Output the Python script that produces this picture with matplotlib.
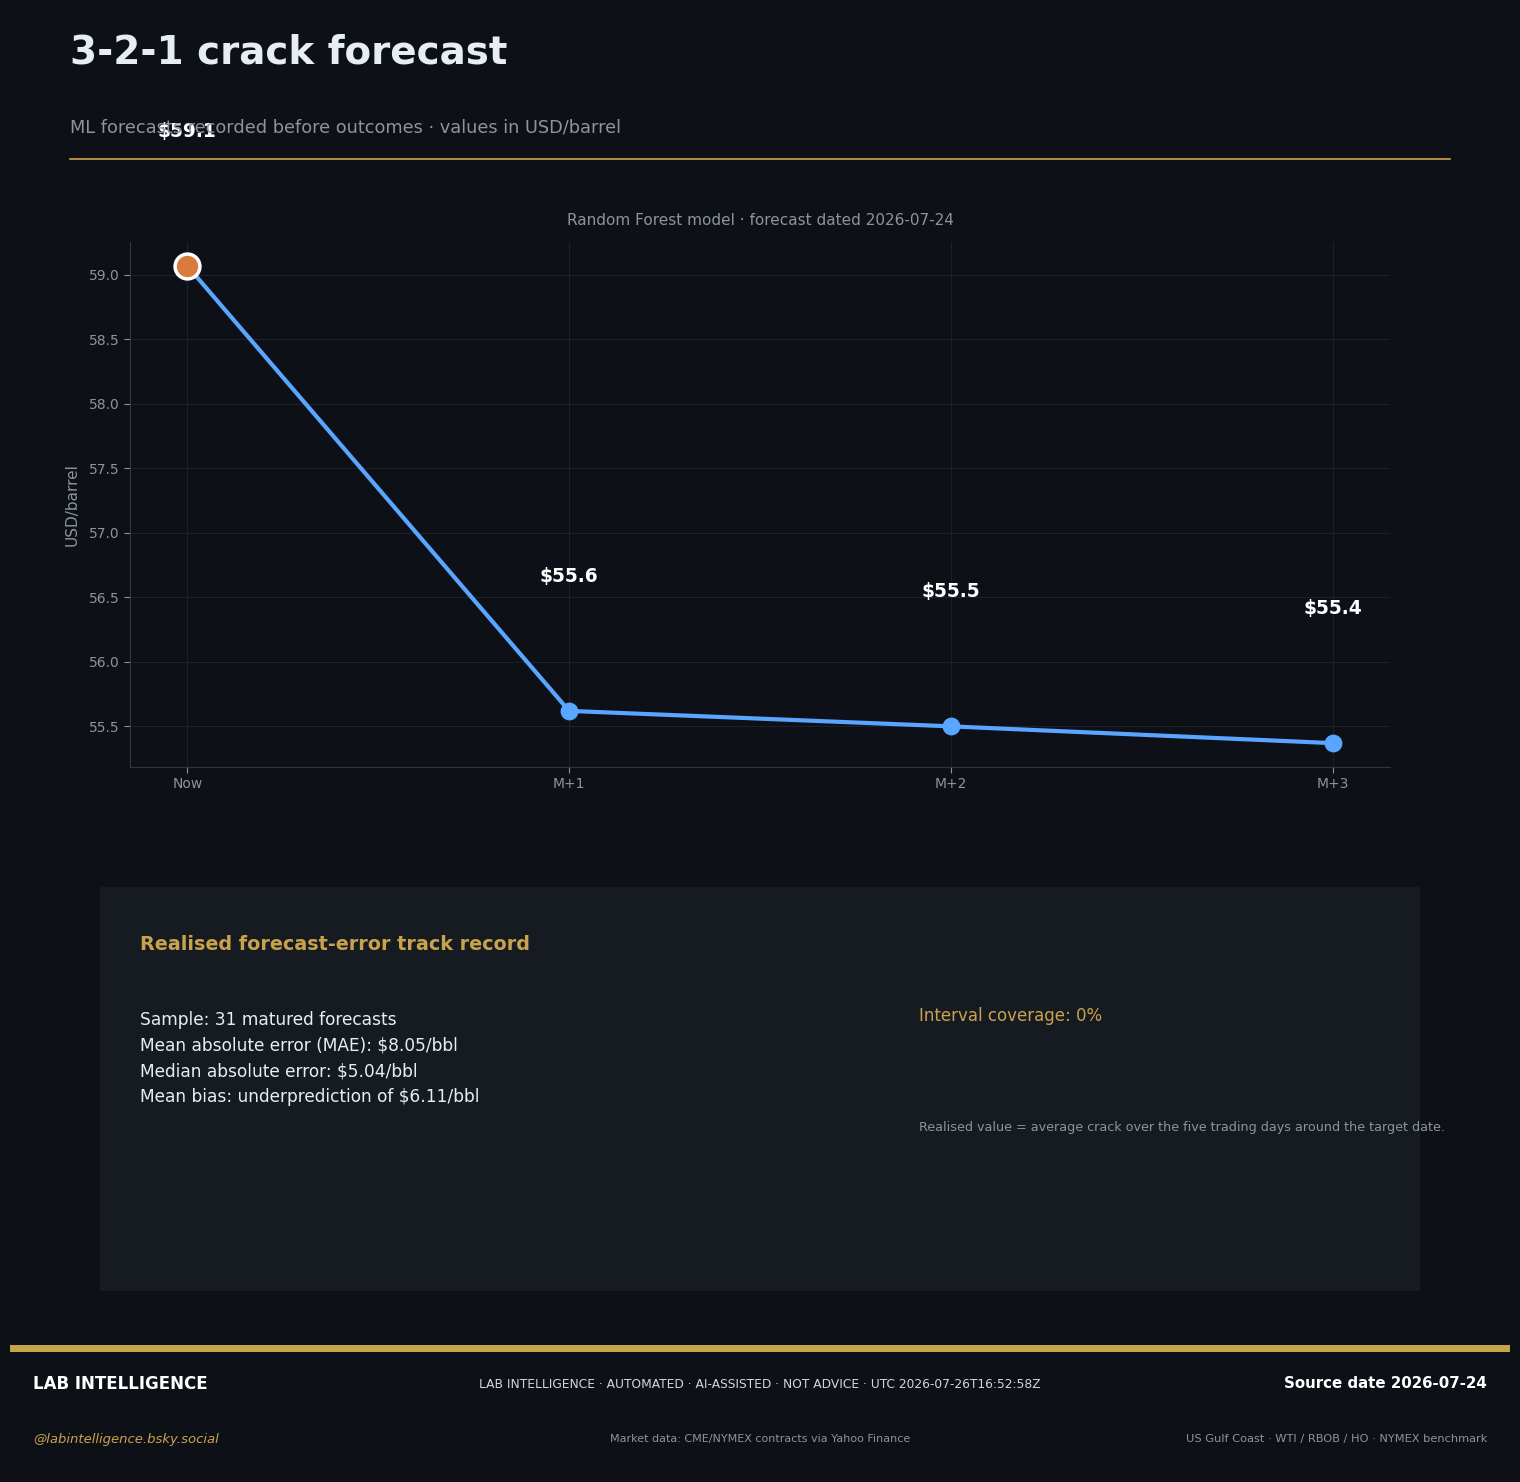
import matplotlib
matplotlib.use('Agg')
from matplotlib import pyplot as plt
from matplotlib.patches import Rectangle
from matplotlib.lines import Line2D

plt.rcParams['font.family'] = ['DejaVu Sans']

# forecast values (USD/barrel)
horizons = ['Now', 'M+1', 'M+2', 'M+3']
crack = [59.07, 55.62, 55.50, 55.37]
labels = ['$59.1', '$55.6', '$55.5', '$55.4']

stats_lines = [
    'Sample: 31 matured forecasts',
    'Mean absolute error (MAE): $8.05/bbl',
    'Median absolute error: $5.04/bbl',
    'Mean bias: underprediction of $6.11/bbl',
]

BG = '#0d1117'
PANEL = '#161b22'
GOLD = '#c9a24c'
BLUE = '#58a6ff'
ORANGE = '#d97b3c'
GREY = '#8b949e'
TEXT = '#e6edf3'

W, H = 1520, 1482
fig = plt.figure(figsize=(W / 100, H / 100), dpi=100, facecolor=BG)


def fx(px):
    return px / W


def fy(py):
    return 1 - py / H


# header
fig.text(fx(70), fy(53), '3-2-1 crack forecast', fontsize=28, fontweight='bold',
         color=TEXT, va='center', ha='left')
fig.text(fx(70), fy(127), 'ML forecasts recorded before outcomes · values in USD/barrel',
         fontsize=12.8, color=GREY, va='center', ha='left')
fig.add_artist(Line2D([fx(70), fx(1450)], [fy(159), fy(159)], color=GOLD, lw=1.2,
                      transform=fig.transFigure))

# main chart
ax = fig.add_axes([fx(130), fy(767), fx(1390) - fx(130), fy(242) - fy(767)])
ax.set_facecolor(BG)
x = list(range(len(horizons)))
ax.plot(x, crack, color=BLUE, lw=3, zorder=3)
ax.scatter(x[1:], crack[1:], s=140, color=BLUE, zorder=4)
ax.scatter(x[:1], crack[:1], s=320, color=ORANGE, edgecolor='white', linewidth=2.5, zorder=5)
for xi, yi, lab in zip(x, crack, labels):
    ax.annotate(lab, (xi, yi), xytext=(0, 97), textcoords='offset points',
                ha='center', va='center', fontsize=13.4, fontweight='bold', color='white',
                annotation_clip=False, zorder=6)
ax.set_xticks(x)
ax.set_xticklabels(horizons)
ax.set_yticks([55.5, 56.0, 56.5, 57.0, 57.5, 58.0, 58.5, 59.0])
ax.tick_params(colors=GREY, labelsize=10, length=4)
for side in ['top', 'right']:
    ax.spines[side].set_visible(False)
for side in ['left', 'bottom']:
    ax.spines[side].set_color('#30363d')
ax.grid(True, color='#1c2129', lw=0.8)
ax.set_axisbelow(True)
ax.set_ylabel('USD/barrel', color=GREY, fontsize=11)
ax.yaxis.set_label_coords(-0.04, 0.5)
ax.set_title('Random Forest model · forecast dated 2026-07-24', color=GREY, fontsize=11, pad=12)

# track record panel
fig.add_artist(Rectangle((fx(100), fy(1291)), fx(1420) - fx(100), fy(887) - fy(1291),
                         transform=fig.transFigure, facecolor=PANEL, edgecolor='none', zorder=0))
fig.text(fx(140), fy(944), 'Realised forecast-error track record', fontsize=13.75,
         fontweight='bold', color=GOLD, va='center')
for i, line in enumerate(stats_lines):
    fig.text(fx(140), fy(1020 + i * 25.6), line, fontsize=12.25, color=TEXT, va='center')
fig.text(fx(919), fy(1016), 'Interval coverage: 0%', fontsize=12, color=GOLD, va='center')
fig.text(fx(919), fy(1128),
         'Realised value = average crack over the five trading days around the target date.',
         fontsize=9.2, color=GREY, va='center')

# footer
fig.add_artist(Rectangle((fx(10), fy(1352)), fx(1510) - fx(10), fy(1345) - fy(1352),
                         transform=fig.transFigure, facecolor=GOLD, edgecolor='none'))
fig.text(fx(33), fy(1384), 'LAB INTELLIGENCE', fontsize=12, fontweight='bold',
         color='white', va='center')
fig.text(fx(760), fy(1384),
         'LAB INTELLIGENCE · AUTOMATED · AI-ASSISTED · NOT ADVICE · UTC 2026-07-26T16:52:58Z',
         fontsize=8.8, color='#d0d7de', va='center', ha='center')
fig.text(fx(1487), fy(1384), 'Source date 2026-07-24', fontsize=10.8, fontweight='bold',
         color='white', va='center', ha='right')
fig.text(fx(33), fy(1439), '@labintelligence.bsky.social', fontsize=9.5, style='italic',
         color=GOLD, va='center')
fig.text(fx(760), fy(1439), 'Market data: CME/NYMEX contracts via Yahoo Finance',
         fontsize=8, color=GREY, va='center', ha='center')
fig.text(fx(1487), fy(1439), 'US Gulf Coast · WTI / RBOB / HO · NYMEX benchmark',
         fontsize=8.2, color=GREY, va='center', ha='right')

fig.savefig('out.png', dpi=100, facecolor=BG)
